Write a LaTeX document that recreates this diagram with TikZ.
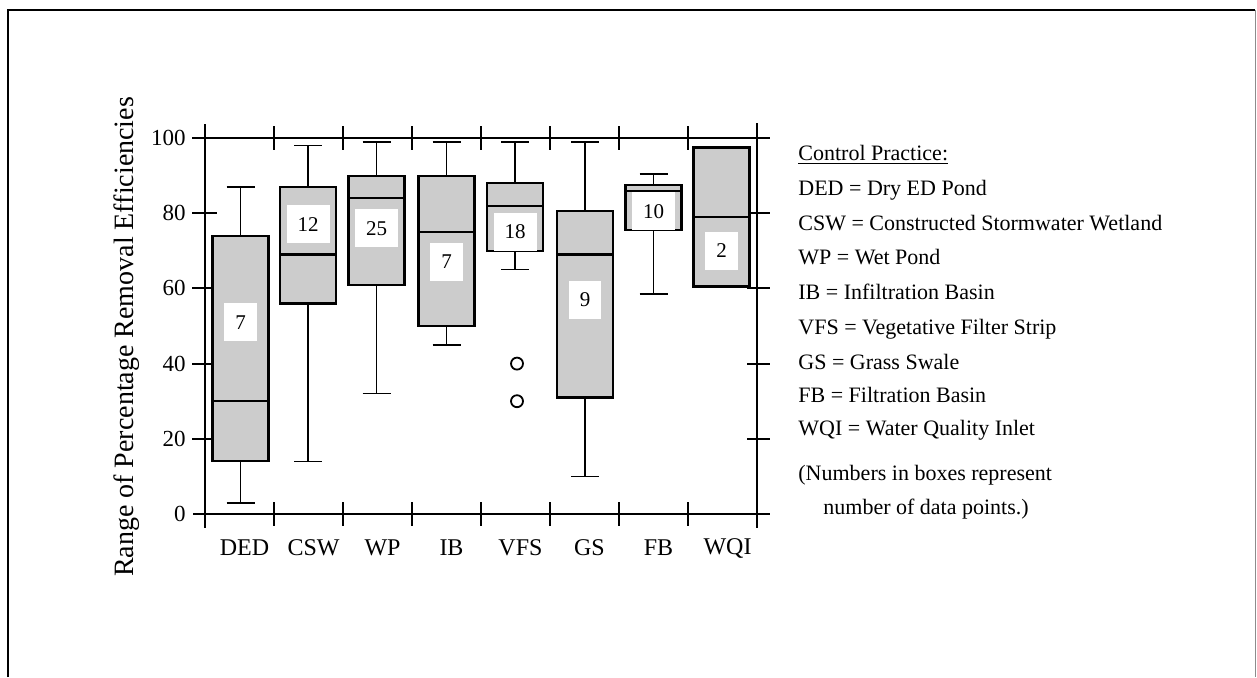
\documentclass[tikz,border=0pt]{standalone}
\usepackage{fontspec}
\setmainfont{Liberation Serif}
\newlength{\du}
\setlength{\du}{0.5\unitlength}
\definecolor{dotgray}{rgb}{0.800000, 0.800000, 0.800000}
\tikzset{
  axisline/.style={line width=2\du},
  whisker/.style={line width=1.6\du},
  boxfill/.style={draw=black, line width=2.2\du, fill=dotgray},
  medline/.style={line width=2.2\du},
  numbox/.style={fill=white, inner xsep=11\du, inner ysep=0pt, minimum width=32\du, minimum height=38\du, font=\fontsize{10.5}{12}\selectfont},
  ticklabel/.style={anchor=east, inner sep=0pt, font=\fontsize{11.5}{13}\selectfont},
  catlabel/.style={inner sep=0pt, font=\fontsize{12}{14}\selectfont},
  legendtext/.style={anchor=base west, inner sep=0pt, font=\fontsize{11}{13}\selectfont},
  outlier/.style={line width=1.8\du}
}

\begin{document}
\begin{tikzpicture}
\pgftransformxscale{1.000000}
\pgftransformyscale{-1.000000}
\definecolor{dialinecolor}{rgb}{0.000000, 0.000000, 0.000000}
\pgfsetstrokecolor{dialinecolor}
\useasboundingbox (0\du,0\du) rectangle (1257\du,677\du);
% frame
\draw[line width=2\du] (8\du,677\du)--(8\du,10\du)--(1255\du,10\du);
\draw[line width=1\du, black!45] (1255\du,10\du)--(1255\du,677\du);
% axes
\draw[axisline] (192\du,138\du)--(770\du,138\du);
\draw[axisline] (193\du,514\du)--(770\du,514\du);
\draw[axisline] (205\du,124\du)--(205\du,528\du);
\draw[axisline] (757\du,123\du)--(757\du,528\du);
\foreach \k in {1,...,7}{
  \pgfmathsetmacro{\tx}{204.5+69*\k}
  \draw[axisline] (\tx\du,126\du)--(\tx\du,150\du);
  \draw[axisline] (\tx\du,502\du)--(\tx\du,526\du);
}
\foreach \v in {20,40,60,80}{
  \pgfmathsetmacro{\ty}{514-3.76*\v}
  \draw[axisline] (192\du,\ty\du)--(217\du,\ty\du);
  \draw[axisline] (747\du,\ty\du)--(770\du,\ty\du);
}
\foreach \v in {0,20,40,60,80,100}{
  \pgfmathsetmacro{\ty}{514-3.76*\v}
  \node[ticklabel] (tick\v) at (186\du,\ty\du) {\v};
}
\node[rotate=90, inner sep=0pt, font=\fontsize{14}{16}\selectfont] (ytitle) at (127\du,337\du) {Range of Percentage Removal Efficiencies};
% boxes
\foreach \cx/\qa/\md/\qb/\wl/\wh/\cp/\num/\ly/\nm in {
  240.5/14/30/74/3/87/14/7/51/ded,
  308/56/69/87/14/98/14/12/77/csw,
  376.5/61/84/90/32/99/14/25/76/wp,
  446.5/50/75/90/45/99/14/7/67/ib,
  515/70/82/88/65/99/14/18/75/vfs,
  585/31/69/80.5/10/99/14/9/57/gs,
  653.5/75.5/86/87.5/58.5/90.5/14/10/80.5/fb,
  721.5/60.5/79/97.5/60.5/97.5/0/2/70/wqi}{
  \pgfmathsetmacro{\yqa}{514-3.76*\qa}
  \pgfmathsetmacro{\ymd}{514-3.76*\md}
  \pgfmathsetmacro{\yqb}{514-3.76*\qb}
  \pgfmathsetmacro{\ywl}{514-3.76*\wl}
  \pgfmathsetmacro{\ywh}{514-3.76*\wh}
  \pgfmathsetmacro{\yly}{514-3.76*\ly}
  \pgfmathsetmacro{\bl}{\cx-28}
  \pgfmathsetmacro{\br}{\cx+28}
  \pgfmathsetmacro{\cl}{\cx-\cp}
  \pgfmathsetmacro{\cr}{\cx+\cp}
  \draw[whisker] (\cx\du,\ywh\du)--(\cx\du,\yqb\du);
  \draw[whisker] (\cx\du,\ywl\du)--(\cx\du,\yqa\du);
  \draw[whisker] (\cl\du,\ywh\du)--(\cr\du,\ywh\du);
  \draw[whisker] (\cl\du,\ywl\du)--(\cr\du,\ywl\du);
  \draw[boxfill] (\bl\du,\yqb\du) rectangle (\br\du,\yqa\du);
  \draw[medline] (\bl\du,\ymd\du)--(\br\du,\ymd\du);
  \node[numbox] (n\nm) at (\cx\du,\yly\du) {\num};
}
% outliers
\draw[outlier] (517\du,363.6\du) circle (6\du);
\draw[outlier] (517\du,401.2\du) circle (6\du);
% categories
\foreach \k/\lab in {0/DED,1/CSW,2/WP,3/IB,4/VFS,5/GS,6/FB,7/WQI}{
  \pgfmathsetmacro{\lx}{244.5+69*\k}
  \node[catlabel] (c\lab) at (\lx\du,548\du) {\lab};
}
% legend
\node[legendtext] (lgtitle) at (798\du,160\du) {\underline{Control Practice:}};
\node[legendtext] (lgded) at (798\du,195.5\du) {DED = Dry ED Pond};
\node[legendtext] (lgcsw) at (798\du,230.5\du) {CSW = Constructed Stormwater Wetland};
\node[legendtext] (lgwp) at (798\du,264.5\du) {WP = Wet Pond};
\node[legendtext] (lgib) at (798\du,299.5\du) {IB = Infiltration Basin};
\node[legendtext] (lgvfs) at (798\du,334.5\du) {VFS = Vegetative Filter Strip};
\node[legendtext] (lggs) at (798\du,369.5\du) {GS = Grass Swale};
\node[legendtext] (lgfb) at (798\du,402.5\du) {FB = Filtration Basin};
\node[legendtext] (lgwqi) at (798\du,435.5\du) {WQI = Water Quality Inlet};
\node[legendtext] (lgnote) at (798\du,480.5\du) {(Numbers in boxes represent};
\node[legendtext] (lgnotetwo) at (823\du,514.5\du) {number of data points.)};
\end{tikzpicture}
\end{document}
